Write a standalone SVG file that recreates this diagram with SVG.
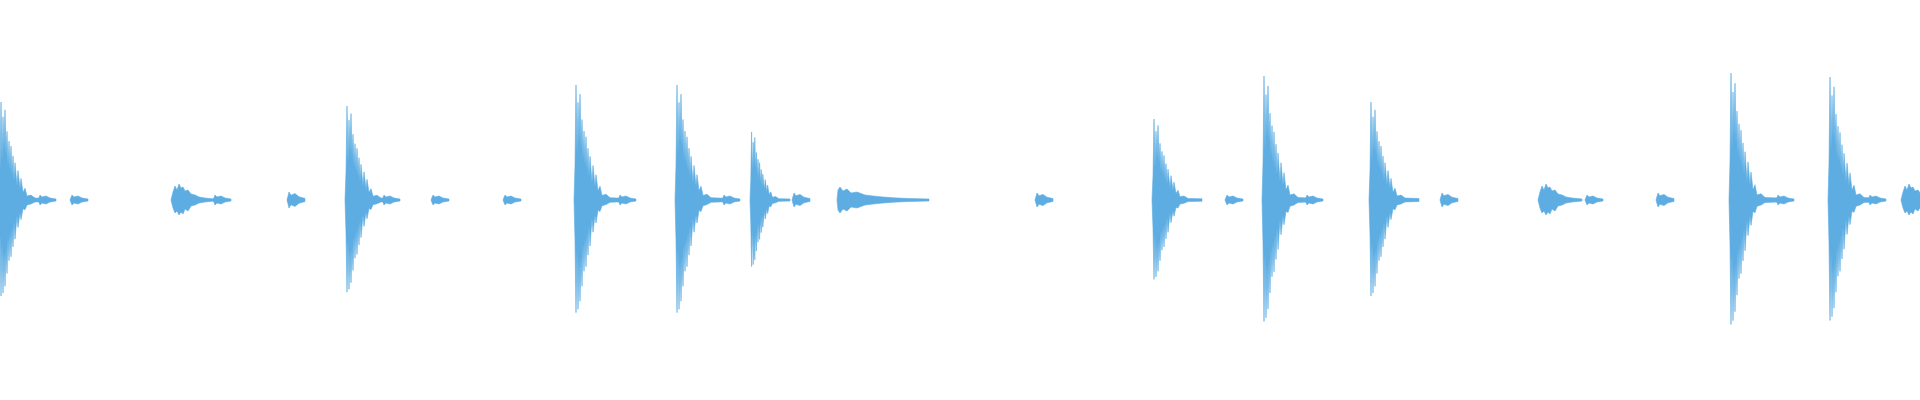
<svg xmlns="http://www.w3.org/2000/svg" width="1920" height="400" viewBox="0 0 1920 400">
<style>.w{fill:#5dade2;stroke:#5dade2;stroke-width:0.6;vector-effect:non-scaling-stroke}</style>
<defs>
<path id="b" class="w" d="M0,0 L1,-30 L2,-100 L3,-40 L4,-85 L5,-50 L6,-92 L7,-45 L8,-70 L9,-35 L10,-60 L11,-30 L12,-55 L13,-25 L14,-45 L15,-20 L16,-38 L18,-15 L19,-30 L21,-12 L22,-22 L24,-8 L26,-12 L28,-4 L32,-5 L36,-2 L50,-1.5 L50,1.5 L36,2 L32,4 L28,5 L26,10 L24,9 L22,20 L21,13 L19,28 L18,16 L16,40 L15,22 L14,48 L13,28 L12,58 L11,33 L10,62 L9,38 L8,75 L7,48 L6,88 L5,52 L4,95 L3,42 L2,98 L1,35 Z"/>
<path id="t" class="w" d="M0,0 L2,-5 L4,-3 L8,-4 L12,-2 L18,-1 L18,1 L12,2 L8,4 L4,3 L2,5 Z"/>
<path id="s" class="w" d="M0,0 L2,-8 L4,-14 L6,-10 L8,-16 L10,-12 L12,-13 L14,-9 L17,-10 L20,-6 L24,-5 L28,-3 L34,-2 L44,-1 L44,1 L34,2 L28,3 L24,5 L20,6 L17,11 L14,9 L12,14 L10,12 L8,15 L6,11 L4,13 L2,8 Z"/>
<path id="l" class="w" d="M0,0 L1,-10 L3,-13 L6,-9 L10,-11 L14,-7 L20,-8 L28,-5 L36,-4 L46,-3 L60,-2 L72,-1.5 L92,-1 L92,1 L72,1.5 L60,2 L46,3 L36,4 L28,5 L20,8 L14,7 L10,11 L6,9 L3,13 L1,10 Z"/>
</defs>
<g id="bursts">
<use href="#b" transform="translate(-1,200) scale(1,0.98)"/>
<use href="#t" transform="translate(38,200)"/>
<use href="#t" transform="translate(70,200)"/>
<use href="#s" transform="translate(171,200)"/>
<use href="#t" transform="translate(213,200)"/>
<use href="#t" transform="translate(287,200) scale(1,1.6)"/>
<use href="#b" transform="translate(345,200) scale(1,0.94)"/>
<use href="#t" transform="translate(382,200)"/>
<use href="#t" transform="translate(431,200)"/>
<use href="#t" transform="translate(503,200)"/>
<use href="#b" transform="translate(574,200) scale(1,1.15)"/>
<use href="#t" transform="translate(618,200)"/>
<use href="#b" transform="translate(675,200) scale(1,1.15)"/>
<use href="#t" transform="translate(722,200)"/>
<use href="#b" transform="translate(750,200) scale(0.8,0.68)"/>
<use href="#t" transform="translate(792,200) scale(1,1.4)"/>
<use href="#l" transform="translate(837,200)"/>
<use href="#t" transform="translate(1035,200) scale(1,1.4)"/>
<use href="#b" transform="translate(1152,200) scale(1,0.81)"/>
<use href="#t" transform="translate(1225,200)"/>
<use href="#b" transform="translate(1262,200) scale(1,1.24)"/>
<use href="#t" transform="translate(1305,200)"/>
<use href="#b" transform="translate(1369,200) scale(1,0.98)"/>
<use href="#t" transform="translate(1440,200) scale(1,1.4)"/>
<use href="#s" transform="translate(1538,200)"/>
<use href="#t" transform="translate(1585,200)"/>
<use href="#t" transform="translate(1656,200) scale(1,1.4)"/>
<use href="#b" transform="translate(1729,200) scale(1,1.27)"/>
<use href="#t" transform="translate(1776,200)"/>
<use href="#b" transform="translate(1828,200) scale(1,1.23)"/>
<use href="#t" transform="translate(1868,200)"/>
<use href="#s" transform="translate(1901,200)"/>
</g>
</svg>
